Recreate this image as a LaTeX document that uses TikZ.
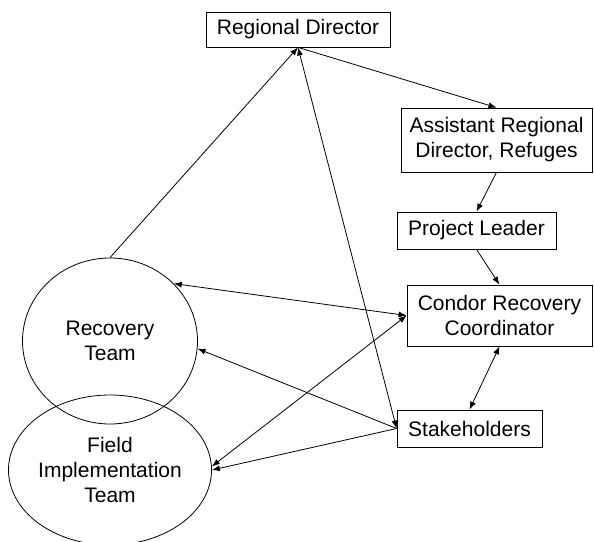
\documentclass[tikz,border=0pt]{standalone}
\usepackage{fontspec}
\setmainfont{Liberation Sans}
\usepackage{tikz}
\usetikzlibrary{arrows.meta}
\usetikzlibrary{shapes.geometric}
\tikzset{
	box/.style={draw, line width=0.8pt, inner sep=0pt, align=center},
	bubble/.style={draw, ellipse, line width=0.8pt, inner sep=0pt, align=center},
	>={Latex[length=8pt,width=6pt]}
}

\begin{document}
\begin{tikzpicture}[x=1pt,y=-1pt]
					\useasboundingbox (0,0) rectangle (594,541);
					\fontsize{21}{25}\selectfont
					\node[box, minimum width=184pt, minimum height=35pt] (rd) at (298,29.5) {Regional Director};
					\node[box, minimum width=191pt, minimum height=64pt] (ard) at (496.5,140) {Assistant Regional\\Director, Refuges};
					\node[box, minimum width=159pt, minimum height=37pt] (pl) at (476.5,230.5) {Project Leader};
					\node[box, minimum width=185pt, minimum height=61pt] (crc) at (499.5,315.5) {Condor Recovery\\Coordinator};
					\node[box, minimum width=145pt, minimum height=37pt] (sh) at (469.5,428.5) {Stakeholders};
					\node[bubble, minimum width=175pt, minimum height=166pt] (rt) at (110,341) {Recovery\\Team};
					\node[bubble, minimum width=192pt, minimum height=150pt] (fit) at (110,470) {Field\\Implementation\\Team};
					\draw[line width=0.8pt, ->] (rt.north) -- (rd.south);
					\draw[line width=0.8pt, <->] (sh.west) -- (rd.south);
					\draw[line width=0.8pt, ->] (rd.south) -- (ard.north);
					\draw[line width=0.8pt, ->] (ard.south) -- (pl.north);
					\draw[line width=0.8pt, ->] (pl.south) -- (crc.north);
					\draw[line width=0.8pt, <->] (crc.west) -- (rt.42);
					\draw[line width=0.8pt, <->] (crc.west) -- (fit.2);
					\draw[line width=0.8pt, ->] (sh.west) -- (rt.-5);
					\draw[line width=0.8pt, ->] (sh.west) -- (fit.0);
					\draw[line width=0.8pt, <->] (crc.south) -- (sh.north);
					\end{tikzpicture}
\end{document}
